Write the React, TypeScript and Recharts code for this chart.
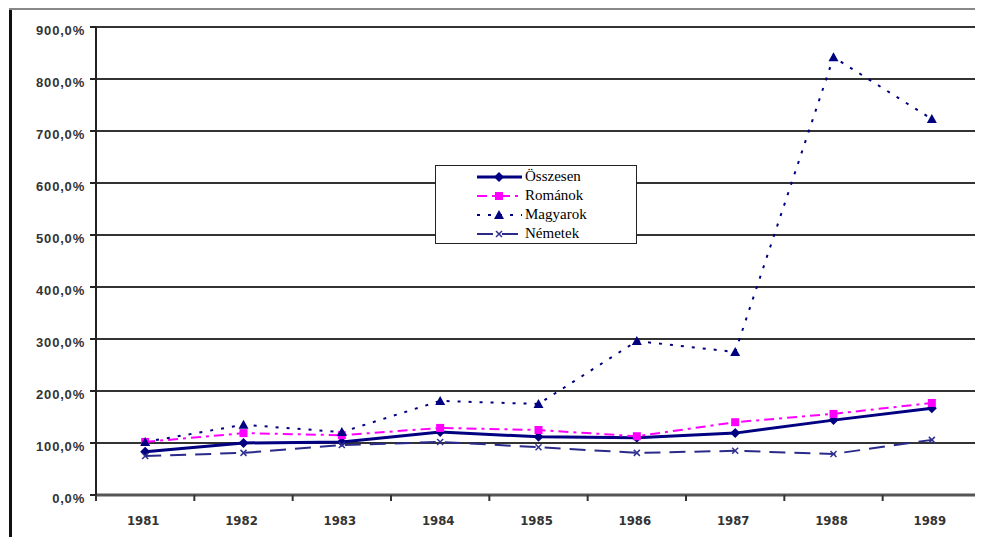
import React from 'react';
import { LineChart, Line, XAxis, YAxis, CartesianGrid, Legend } from 'recharts';

const years = ['1981', '1982', '1983', '1984', '1985', '1986', '1987', '1988', '1989'];
const osszesen = [83, 100, 102, 121, 112, 110, 119, 144, 167];
const romanok = [102, 119, 115, 129, 125, 113, 140, 156, 177];
const magyarok = [102, 135, 121, 181, 175, 296, 275, 842, 723];
const nemetek = [75, 81, 96, 102, 92, 81, 85, 79, 106];
const yTicks = [0, 100, 200, 300, 400, 500, 600, 700, 800, 900];

const data = years.map((year, i) => ({
  year,
  osszesen: osszesen[i],
  romanok: romanok[i],
  magyarok: magyarok[i],
  nemetek: nemetek[i],
}));

const W = 975;
const H = 529;
const M_TOP = 19;
const M_RIGHT = 2;
const Y_W = 88;
const X_H = 42;
const PLOT_W = W - Y_W - M_RIGHT;
const AXIS_Y = H - X_H;
const BAND = PLOT_W / years.length;

const NAVY = '#000080';

const Diamond = (p: any) => {
  const { cx, cy } = p;
  if (cx == null || cy == null) return null;
  const s = 5;
  return <polygon key={`d${p.index}`} points={`${cx},${cy - s} ${cx + s},${cy} ${cx},${cy + s} ${cx - s},${cy}`} fill={NAVY} />;
};
const Square = (p: any) => {
  const { cx, cy } = p;
  if (cx == null || cy == null) return null;
  return <rect key={`s${p.index}`} x={cx - 4} y={cy - 4} width={8} height={8} fill="#FF00FF" />;
};
const Triangle = (p: any) => {
  const { cx, cy } = p;
  if (cx == null || cy == null) return null;
  return <polygon key={`t${p.index}`} points={`${cx},${cy - 5} ${cx + 5},${cy + 4} ${cx - 5},${cy + 4}`} fill={NAVY} />;
};
const Cross = (p: any) => {
  const { cx, cy } = p;
  if (cx == null || cy == null) return null;
  return (
    <g key={`x${p.index}`} stroke="#303090" strokeWidth={1.5}>
      <line x1={cx - 3} y1={cy - 3} x2={cx + 3} y2={cy + 3} />
      <line x1={cx - 3} y1={cy + 3} x2={cx + 3} y2={cy - 3} />
    </g>
  );
};

const series = [
  { key: 'osszesen', name: 'Összesen', color: NAVY, width: 3, dash: undefined as string | undefined, dot: Diamond },
  { key: 'romanok', name: 'Románok', color: '#FF00FF', width: 2, dash: '10 5 3 5', dot: Square },
  { key: 'magyarok', name: 'Magyarok', color: NAVY, width: 2, dash: '3 8', dot: Triangle },
  { key: 'nemetek', name: 'Németek', color: '#2a2a8a', width: 2, dash: '16 9', dot: Cross },
];

const XTick = (props: any) => {
  const { x, payload, index } = props;
  const left = x - BAND / 2;
  return (
    <g>
      <line x1={left} y1={AXIS_Y} x2={left} y2={AXIS_Y + 6} stroke="#333" strokeWidth={2} />
      {index === years.length - 1 && (
        <line x1={x + BAND / 2} y1={AXIS_Y} x2={x + BAND / 2} y2={AXIS_Y + 6} stroke="#333" strokeWidth={2} />
      )}
      <text x={x - 2} y={AXIS_Y + 30} textAnchor="middle" fontSize={13} fontWeight="bold" fill="#333"
        fontFamily="'Liberation Sans Narrow', 'DejaVu Sans Condensed', 'Liberation Sans', Arial, sans-serif">
        {payload.value}
      </text>
    </g>
  );
};

const LegendBox = () => (
  <div style={{
    width: 202, height: 79, background: '#fff', border: '1.5px solid #222', boxSizing: 'border-box',
    paddingTop: 1, fontFamily: "'Liberation Serif', 'Times New Roman', serif", fontSize: 15, color: '#000',
  }}>
    {series.map((s) => (
      <div key={s.key} style={{ height: 19, display: 'flex', alignItems: 'center' }}>
        <svg width={89} height={14} style={{ flex: 'none' }}>
          <line x1={41} y1={7} x2={86} y2={7} stroke={s.color} strokeWidth={s.width} strokeDasharray={s.dash} />
          {s.dot({ cx: 63, cy: 7, index: 0 })}
        </svg>
        <span style={{ lineHeight: '15px' }}>{s.name}</span>
      </div>
    ))}
  </div>
);

export default function App() {
  return (
    <div style={{ position: 'relative', width: W, height: H }}>
      <div style={{ position: 'absolute', left: 1, top: 0, width: 3, height: H, background: '#111' }} />
      <div style={{ position: 'absolute', left: 1, top: 0, width: W - 1, height: 2, background: '#888' }} />
      <LineChart width={W} height={H} data={data} margin={{ top: M_TOP, right: M_RIGHT, left: 0, bottom: 0 }}>
        <CartesianGrid vertical={false} stroke="#333" strokeWidth={2} yAxisId="l" />
        <XAxis dataKey="year" height={X_H} tickLine={false} tick={<XTick />} interval={0}
          padding={{ left: BAND / 2, right: BAND / 2 }}
          axisLine={{ stroke: '#555', strokeWidth: 3 }} />
        <YAxis yAxisId="l" width={Y_W} domain={[0, 900]} ticks={yTicks} interval={0}
          tickFormatter={(v: number) => v.toFixed(1).replace('.', ',') + '%'}
          axisLine={{ stroke: '#222', strokeWidth: 2 }} tickLine={{ stroke: '#222', strokeWidth: 2 }}
          tickSize={6} tickMargin={5}
          tick={{ fontSize: 13, fontWeight: 'bold', fill: '#333', dy: 3, fontFamily: "'Liberation Sans', Arial, sans-serif", letterSpacing: 0.8 }} />
        <YAxis yAxisId="r" orientation="right" width={0} tick={false} tickLine={false}
          axisLine={{ stroke: '#999', strokeWidth: 2 }} domain={[0, 900]} />
        <Legend layout="horizontal" verticalAlign="middle" align="center" content={() => <LegendBox />}
          wrapperStyle={{ position: 'absolute', left: 427, top: 157, width: 202, height: 79 }} />
        {series.map((s) => (
          <Line key={s.key} yAxisId="l" type="linear" dataKey={s.key} name={s.name} stroke={s.color}
            strokeWidth={s.width} strokeDasharray={s.dash} dot={s.dot} activeDot={false}
            isAnimationActive={false} />
        ))}
      </LineChart>
    </div>
  );
}
